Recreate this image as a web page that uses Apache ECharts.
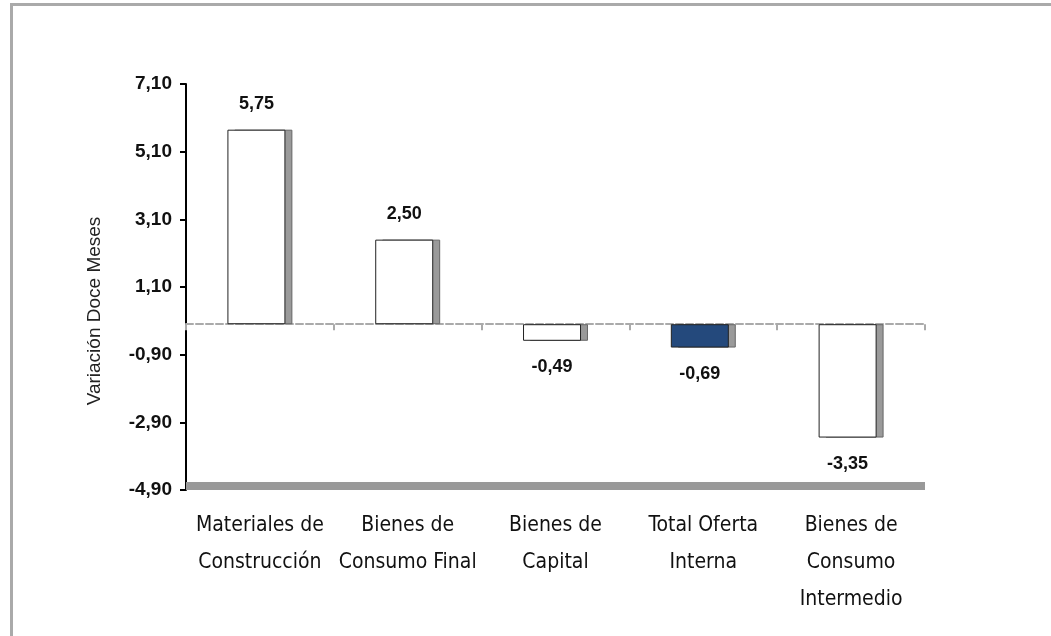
<!DOCTYPE html>
<html>
<head>
<meta charset="utf-8">
<script src="https://cdn.jsdelivr.net/npm/echarts@6/dist/echarts.min.js"></script>
<style>
  html, body { margin: 0; padding: 0; background: #fff; }
  #main { width: 1051px; height: 636px; }
</style>
</head>
<body>
<div id="main"></div>
<script>
// datos
var categorias = ['Materiales de\nConstrucción', 'Bienes de\nConsumo Final', 'Bienes de\nCapital', 'Total Oferta\nInterna', 'Bienes de\nConsumo\nIntermedio'];
var valores = [5.75, 2.50, -0.49, -0.69, -3.35];
var colores = ['#ffffff', '#ffffff', '#ffffff', '#24497c', '#ffffff'];
var ejeMin = -4.9;
var ejeMax = 7.1;
var ejePaso = 2;

var fuenteEstrecha = "'Liberation Sans Narrow', 'DejaVu Sans Condensed', 'Roboto Condensed', 'Liberation Sans', sans-serif";

function coma(v) {
    return v.toFixed(2).replace('.', ',');
}

var myChart = echarts.init(document.getElementById('main'));

var option = {
    animation: false,
    backgroundColor: '#fff',
    grid: { left: 186, right: 126, top: 84, bottom: 146 },
    graphic: [
        { type: 'rect', shape: { x: 11, y: 3, width: 1040, height: 3 }, style: { fill: '#aaaaaa' } },
        { type: 'rect', shape: { x: 10, y: 3, width: 3, height: 633 }, style: { fill: '#aaaaaa' } }
    ],
    xAxis: [
        {
            type: 'category',
            data: categorias,
            position: 'bottom',
            offset: -4,
            axisLine: { onZero: false, lineStyle: { color: '#999', width: 8, cap: 'butt' } },
            axisTick: { show: false },
            axisLabel: {
                margin: 21,
                color: '#111',
                fontFamily: fuenteEstrecha,
                fontSize: 21,
                lineHeight: 37,
                interval: 0
            }
        },
        {
            type: 'category',
            data: categorias,
            position: 'bottom',
            axisLine: { onZero: true, lineStyle: { color: '#aaa', width: 2, type: [7, 3] } },
            axisTick: { show: true, length: 6, lineStyle: { color: '#aaa', width: 2 } },
            axisLabel: { show: false }
        }
    ],
    yAxis: {
        type: 'value',
        min: ejeMin,
        max: ejeMax,
        interval: ejePaso,
        name: 'Variación Doce Meses',
        nameLocation: 'middle',
        nameGap: 82,
        nameTextStyle: {
            fontFamily: 'Liberation Sans',
            fontSize: 19,
            color: '#222',
            padding: [0, 48, 0, 0]
        },
        axisLine: { show: true, lineStyle: { color: '#000', width: 2 } },
        axisTick: { show: true, length: 6, lineStyle: { color: '#000', width: 2 } },
        splitLine: { show: false },
        axisLabel: {
            margin: 14,
            color: '#111',
            fontFamily: 'Liberation Sans',
            fontWeight: 'bold',
            fontSize: 19,
            formatter: function (v) { return coma(v); }
        }
    },
    series: [
        {
            // cara frontal
            type: 'bar',
            xAxisIndex: 0,
            barWidth: 58,
            barGap: '-88%',
            z: 3,
            data: valores.map(function (v, i) {
                return {
                    value: v,
                    itemStyle: { color: colores[i] },
                    label: { position: v >= 0 ? 'top' : 'bottom' }
                };
            }),
            itemStyle: { borderColor: '#222', borderWidth: 1 },
            label: {
                show: true,
                distance: 17,
                color: '#111',
                fontFamily: 'Liberation Sans',
                fontWeight: 'bold',
                fontSize: 18,
                formatter: function (p) { return coma(p.value); }
            }
        },
        {
            // lado 3D
            type: 'bar',
            xAxisIndex: 0,
            barWidth: 58,
            z: 2,
            silent: true,
            data: valores,
            itemStyle: { color: '#9a9a9a', borderColor: '#666', borderWidth: 1 }
        }
    ]
};

myChart.setOption(option);
</script>
</body>
</html>
